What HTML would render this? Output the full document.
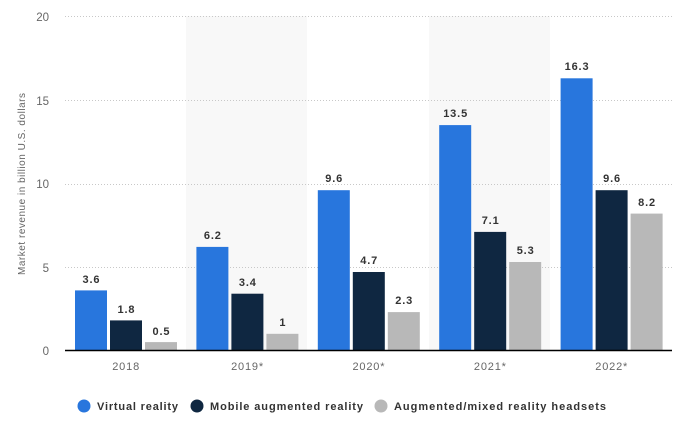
<!DOCTYPE html>
<html><head><meta charset="utf-8"><style>
html,body{margin:0;padding:0;background:#fff;}
svg{display:block;font-family:"Liberation Sans",Arial,sans-serif;}
</style></head><body>
<svg width="675" height="427" viewBox="0 0 675 427" xmlns="http://www.w3.org/2000/svg">
<rect x="0" y="0" width="675" height="427" fill="#fff"/>
<rect x="186" y="16" width="121" height="334" fill="#f8f8f8"/>
<rect x="429" y="16" width="121" height="334" fill="#f8f8f8"/>
<g stroke="#c8c8c8" stroke-width="1" stroke-dasharray="1,2">
<line x1="65" y1="16.5" x2="672" y2="16.5"/>
<line x1="65" y1="100.5" x2="672" y2="100.5"/>
<line x1="65" y1="184.5" x2="672" y2="184.5"/>
<line x1="65" y1="267.5" x2="672" y2="267.5"/>
</g>
<g font-size="11.5" fill="#666" text-anchor="end">
<text x="49" y="21">20</text>
<text x="49" y="105">15</text>
<text x="49" y="188">10</text>
<text x="49" y="272">5</text>
<text x="49" y="355">0</text>
</g>
<text x="-184" y="25" transform="rotate(-90)" font-size="10" fill="#666" text-anchor="middle" textLength="182" lengthAdjust="spacing">Market revenue in billion U.S. dollars</text>
<g font-size="11" fill="#666" text-anchor="middle">
<text x="125.7" y="370" textLength="27" lengthAdjust="spacing">2018</text>
<text x="247.1" y="370" textLength="32" lengthAdjust="spacing">2019*</text>
<text x="368.5" y="370" textLength="32" lengthAdjust="spacing">2020*</text>
<text x="489.9" y="370" textLength="32" lengthAdjust="spacing">2021*</text>
<text x="611.3" y="370" textLength="32" lengthAdjust="spacing">2022*</text>
</g>
<g>
<rect x="75" y="290.4" width="32" height="60.1" fill="#2876dd"/>
<rect x="110" y="320.4" width="32" height="30.1" fill="#0f2741"/>
<rect x="145" y="342.1" width="32" height="8.4" fill="#b8b8b8"/>
<rect x="196.4" y="246.9" width="32" height="103.6" fill="#2876dd"/>
<rect x="231.4" y="293.7" width="32" height="56.8" fill="#0f2741"/>
<rect x="266.4" y="333.8" width="32" height="16.7" fill="#b8b8b8"/>
<rect x="317.8" y="190.2" width="32" height="160.3" fill="#2876dd"/>
<rect x="352.8" y="272" width="32" height="78.5" fill="#0f2741"/>
<rect x="387.8" y="312.1" width="32" height="38.4" fill="#b8b8b8"/>
<rect x="439.2" y="125.1" width="32" height="225.4" fill="#2876dd"/>
<rect x="474.2" y="231.9" width="32" height="118.6" fill="#0f2741"/>
<rect x="509.2" y="262" width="32" height="88.5" fill="#b8b8b8"/>
<rect x="560.6" y="78.3" width="32" height="272.2" fill="#2876dd"/>
<rect x="595.6" y="190.2" width="32" height="160.3" fill="#0f2741"/>
<rect x="630.6" y="213.6" width="32" height="136.9" fill="#b8b8b8"/>
</g>
<line x1="65" y1="350.5" x2="672" y2="350.5" stroke="#000" stroke-width="1.5"/>
<g font-size="11" font-weight="bold" fill="#333" text-anchor="middle">
<text x="91" y="283" textLength="17" lengthAdjust="spacing">3.6</text>
<text x="126" y="313" textLength="17" lengthAdjust="spacing">1.8</text>
<text x="161" y="335" textLength="17" lengthAdjust="spacing">0.5</text>
<text x="212.4" y="239" textLength="17" lengthAdjust="spacing">6.2</text>
<text x="247.4" y="286" textLength="17" lengthAdjust="spacing">3.4</text>
<text x="282.4" y="326">1</text>
<text x="333.8" y="182" textLength="17" lengthAdjust="spacing">9.6</text>
<text x="368.8" y="264" textLength="17" lengthAdjust="spacing">4.7</text>
<text x="403.8" y="304" textLength="17" lengthAdjust="spacing">2.3</text>
<text x="455.2" y="117" textLength="24" lengthAdjust="spacing">13.5</text>
<text x="490.2" y="224" textLength="17" lengthAdjust="spacing">7.1</text>
<text x="525.2" y="254" textLength="17" lengthAdjust="spacing">5.3</text>
<text x="576.6" y="70" textLength="24" lengthAdjust="spacing">16.3</text>
<text x="611.6" y="182" textLength="17" lengthAdjust="spacing">9.6</text>
<text x="646.6" y="206" textLength="17" lengthAdjust="spacing">8.2</text>
</g>
<g font-size="11" font-weight="bold" fill="#333">
<circle cx="84" cy="406" r="6.5" fill="#2876dd"/>
<text x="97" y="410" textLength="81" lengthAdjust="spacing">Virtual reality</text>
<circle cx="197" cy="406" r="6.5" fill="#0f2741"/>
<text x="210" y="410" textLength="153" lengthAdjust="spacing">Mobile augmented reality</text>
<circle cx="381" cy="406" r="6.5" fill="#b8b8b8"/>
<text x="394" y="410" textLength="212" lengthAdjust="spacing">Augmented/mixed reality headsets</text>
</g>
</svg>
</body></html>
